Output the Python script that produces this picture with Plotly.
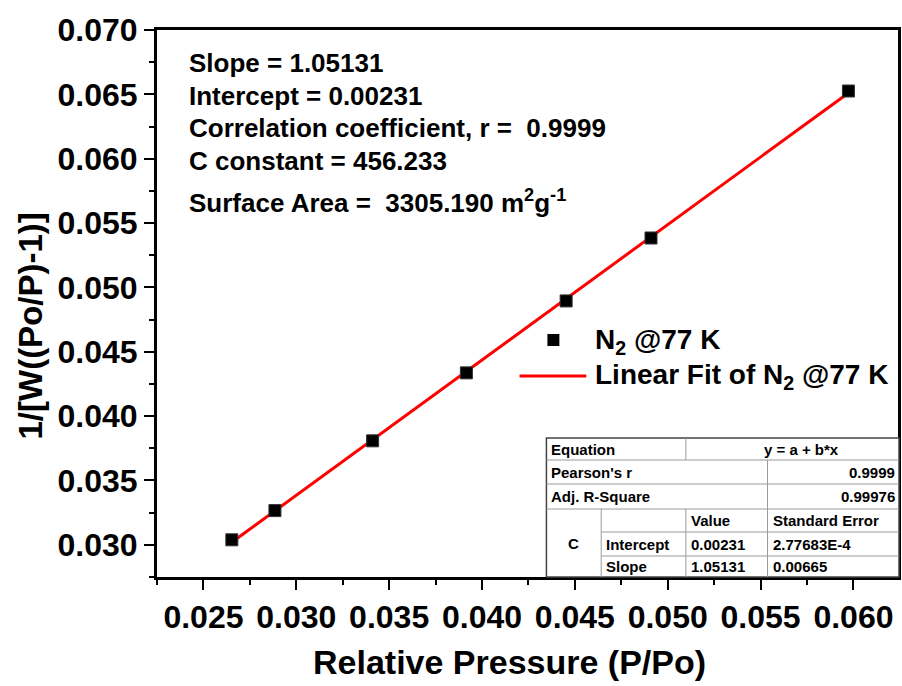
import plotly.graph_objects as go

# BET plot data: relative pressure vs 1/[W((Po/P)-1)] for N2 at 77 K
rel_pressure = [0.02653, 0.02885, 0.03411, 0.03916, 0.04453, 0.04910, 0.05973]
bet_value = [0.03039, 0.03266, 0.03808, 0.04336, 0.04895, 0.05384, 0.06526]

# Linear fit parameters
fit_intercept = 0.00231
fit_slope = 1.05131

x_ticks = [0.025, 0.030, 0.035, 0.040, 0.045, 0.050, 0.055, 0.060]
y_ticks = [0.030, 0.035, 0.040, 0.045, 0.050, 0.055, 0.060, 0.065, 0.070]

info_lines = [
    "Slope = 1.05131",
    "Intercept = 0.00231",
    "Correlation coefficient, r =  0.9999",
    "C constant = 456.233",
    "Surface Area =  3305.190 m<sup>2</sup>g<sup>-1</sup>",
]

legend_labels = ["N<sub>2</sub> @77 K", "Linear Fit of N<sub>2</sub> @77 K"]

table_equation = ["Equation", "y = a + b*x"]
table_stats = [["Pearson's r", "0.9999"], ["Adj. R-Square", "0.99976"]]
table_header = ["Value", "Standard Error"]
table_params = [["Intercept", "0.00231", "2.77683E-4"], ["Slope", "1.05131", "0.00665"]]
table_group = "C"

FONT = "Liberation Sans, Arial, sans-serif"

# plot area in pixels
L, R, T, B = 157, 901, 30, 577
W, H = 902, 686


def px(x):
    return (x - L) / (R - L)


def py(y):
    return (B - y) / (B - T)


fit_x = [min(rel_pressure), max(rel_pressure)]
fit_y = [fit_intercept + fit_slope * v for v in fit_x]

fig = go.Figure()
fig.add_trace(go.Scatter(
    x=fit_x, y=fit_y, mode="lines",
    line=dict(color="#ff0000", width=3), showlegend=False,
))
fig.add_trace(go.Scatter(
    x=rel_pressure, y=bet_value, mode="markers",
    marker=dict(symbol="square", size=12, color="black",
                line=dict(color="#333333", width=1)),
    showlegend=False,
))

axis_common = dict(
    showline=True, linewidth=3, linecolor="black", mirror=True,
    ticks="outside", ticklen=10, tickwidth=2, tickcolor="black",
    showgrid=False, zeroline=False,
    tickfont=dict(family=FONT, size=32, color="black", weight="bold"),
    tickformat=".3f",
)

fig.update_xaxes(
    range=[0.0225, 0.0624], tickvals=x_ticks,
    minor=dict(ticklen=5, tickwidth=2, tickcolor="black", dtick=0.0025, ticks="outside"),
    **axis_common,
)
fig.update_yaxes(
    range=[0.0275, 0.070], tickvals=y_ticks,
    minor=dict(ticklen=5, tickwidth=2, tickcolor="black", dtick=0.0025, ticks="outside"),
    **axis_common,
)

annotations = []
shapes = []

# axis titles
annotations.append(dict(
    text="Relative Pressure (P/Po)", xref="paper", yref="paper",
    x=px(511), y=py(662), xanchor="center", yanchor="middle", showarrow=False,
    font=dict(family=FONT, size=34, color="black", weight="bold"),
))
annotations.append(dict(
    text="1/[W((Po/P)-1)]", xref="paper", yref="paper", textangle=-90,
    x=px(30), y=py(326), xanchor="center", yanchor="middle", showarrow=False,
    font=dict(family=FONT, size=33, color="black", weight="bold"),
))

# fit summary text block
info_y = [63, 96, 128, 161, 201]
for txt, yy in zip(info_lines, info_y):
    annotations.append(dict(
        text=txt, xref="paper", yref="paper", x=px(187), y=py(yy),
        xanchor="left", yanchor="middle", showarrow=False,
        font=dict(family=FONT, size=26, color="black", weight="bold"),
    ))

# legend
shapes.append(dict(type="rect", xref="paper", yref="paper",
                   x0=px(549), x1=px(561), y0=py(334), y1=py(346),
                   fillcolor="black", line=dict(width=0)))
shapes.append(dict(type="line", xref="paper", yref="paper",
                   x0=px(521), x1=px(588), y0=py(376), y1=py(376),
                   line=dict(color="#ff0000", width=3)))
for txt, yy in zip(legend_labels, [341, 376]):
    annotations.append(dict(
        text=txt, xref="paper", yref="paper", x=px(595), y=py(yy),
        xanchor="left", yanchor="middle", showarrow=False,
        font=dict(family=FONT, size=28, color="black", weight="bold"),
    ))

# statistics table
rows = [438, 460, 484, 509, 532, 556, 577]
cx0, cx1, cx2, cx3, cx4 = 548, 603, 688, 770, 902
shapes.append(dict(type="rect", xref="paper", yref="paper",
                   x0=px(cx0), x1=px(cx4), y0=py(rows[-1]), y1=py(rows[0]),
                   fillcolor="white", line=dict(color="#444444", width=1.5)))


def hline(y, xa, xb):
    shapes.append(dict(type="line", xref="paper", yref="paper",
                       x0=px(xa), x1=px(xb), y0=py(y), y1=py(y),
                       line=dict(color="#9a9a9a", width=1)))


def vline(x, ya, yb):
    shapes.append(dict(type="line", xref="paper", yref="paper",
                       x0=px(x), x1=px(x), y0=py(ya), y1=py(yb),
                       line=dict(color="#9a9a9a", width=1)))


hline(rows[1], cx0, cx4)
hline(rows[2], cx0, cx4)
hline(rows[3], cx0, cx4)
hline(rows[4], cx1, cx4)
hline(rows[5], cx1, cx4)
vline(cx2, rows[0], rows[1])
vline(cx3, rows[1], rows[6])
vline(cx1, rows[3], rows[6])
vline(cx2, rows[3], rows[6])


def cell(txt, x, y, anchor="left"):
    annotations.append(dict(
        text=txt, xref="paper", yref="paper", x=px(x), y=py(y),
        xanchor=anchor, yanchor="middle", showarrow=False,
        font=dict(family=FONT, size=15, color="black", weight="bold"),
    ))


def mid(i):
    return (rows[i] + rows[i + 1]) / 2


cell(table_equation[0], cx0 + 3, mid(0))
cell(table_equation[1], 804, mid(0), "center")
for i, (name, val) in enumerate(table_stats):
    cell(name, cx0 + 3, mid(1 + i))
    cell(val, 900, mid(1 + i), "right")
cell(table_header[0], cx2 + 3, mid(3))
cell(table_header[1], cx3 + 3, mid(3))
for i, (name, val, err) in enumerate(table_params):
    cell(name, cx1 + 3, mid(4 + i))
    cell(val, cx2 + 3, mid(4 + i))
    cell(err, cx3 + 3, mid(4 + i))
cell(table_group, (cx0 + cx1) / 2, (rows[3] + rows[6]) / 2, "center")

fig.update_layout(
    width=W, height=H, autosize=False,
    margin=dict(l=L, r=W - R, t=T, b=H - B, pad=0),
    paper_bgcolor="white", plot_bgcolor="white",
    annotations=annotations, shapes=shapes,
    font=dict(family=FONT, color="black"),
)

fig.write_html("out.html")
